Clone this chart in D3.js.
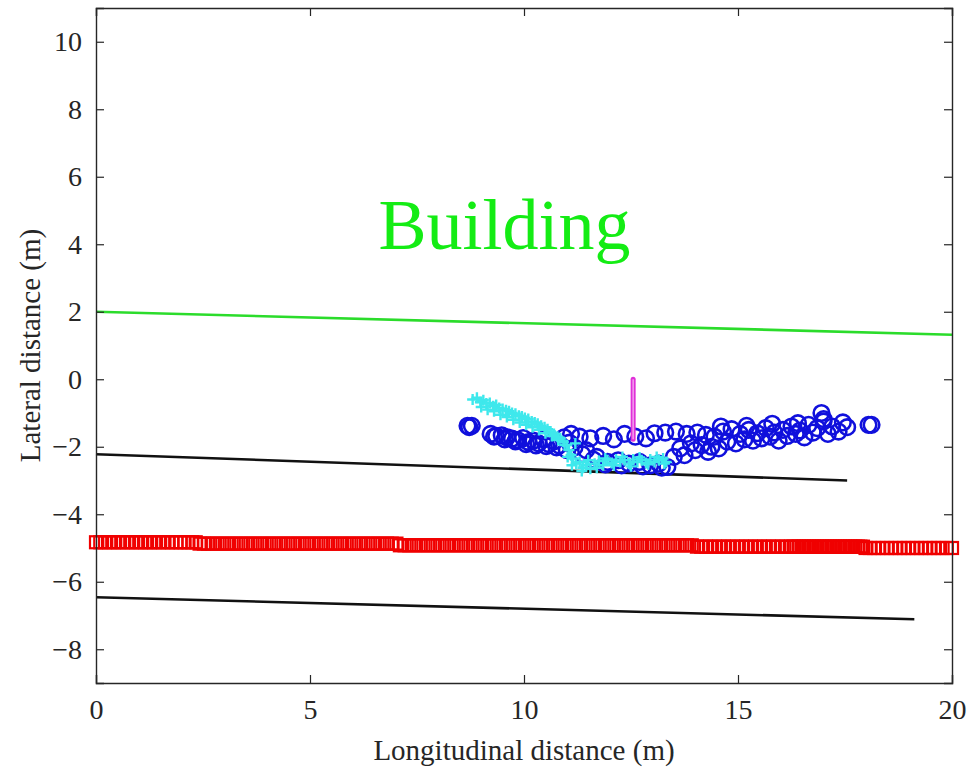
<!DOCTYPE html>
<html>
<head>
<meta charset="utf-8">
<script src="https://cdn.jsdelivr.net/npm/d3@7"></script>
<style>
  body { margin: 0; background: #fff; }
  svg text { font-family: "Liberation Serif", "Times New Roman", Times, serif !important; }
</style>
</head>
<body>
<div id="canvas"></div>
<script>
/*
Axis ticks */
var xTicks = [0, 5, 10, 15, 20];
var yTicks = [-8, -6, -4, -2, 0, 2, 4, 6, 8, 10];

/*
Road edge lines: [x0, y0, x1, y1] */
var greenLine = [0, 2.0, 20, 1.32];
var blackLine1 = [0, -2.22, 17.55, -3.0];
var blackLine2 = [0, -6.46, 19.12, -7.11];

/*
Pedestrian/pole marker (magenta) */
var magentaSeg = [12.55, 0.0, 12.55, -1.78];

/*
Red squares, grouped by lateral offset */
var redX1 = [0.00,0.10,0.21,0.31,0.42,0.52,0.63,0.73,0.84,0.94,1.05,1.15,1.26,1.36,1.47,1.57,1.68,1.78,1.88,1.98,2.07,2.16,2.25,2.33];
var redY1 = -4.83;
var redX2 = [2.42,2.52,2.62,2.73,2.84,2.95,3.06,3.17,3.28,3.39,3.50,3.61,3.72,3.83,3.94,4.05,4.16,4.27,4.38,4.49,4.60,4.71,4.82,4.93,5.04,5.15,5.26,5.37,5.48,5.59,5.70,5.81,5.92,6.03,6.14,6.25,6.36,6.47,6.58,6.69,6.80,6.91,7.02];
var redY2 = -4.87;
var redX3 = [7.10,7.21,7.32,7.43,7.54,7.65,7.76,7.87,7.98,8.09,8.20,8.31,8.42,8.53,8.64,8.75,8.86,8.97,9.08,9.19,9.30,9.41,9.52,9.63,9.74,9.85,9.96,10.07,10.18,10.29,10.40,10.51,10.62,10.73,10.84,10.95,11.06,11.17,11.28,11.39,11.50,11.61,11.72,11.83,11.94,12.05,12.16,12.27,12.38,12.49,12.60,12.71,12.82,12.93,13.04,13.15,13.26,13.37,13.48,13.59,13.70,13.81,13.92];
var redY3 = -4.92;
var redX4 = [14.04,14.14,14.25,14.35,14.46,14.56,14.67,14.77,14.88,14.98,15.09,15.19,15.30,15.40,15.51,15.61,15.72,15.82,15.93,16.03,16.14,16.24,16.30,16.36,16.42,16.48,16.54,16.60,16.66,16.72,16.78,16.84,16.90,16.96,17.02,17.08,17.14,17.20,17.26,17.32,17.38,17.44,17.50,17.56,17.62,17.68,17.74,17.80,17.86,17.92];
var redY4 = -4.96;
var redX5 = [17.98,18.08,18.18,18.28,18.38,18.48,18.58,18.68,18.78,18.88,18.98,19.08,19.18,19.28,19.38,19.48,19.58,19.68,19.78,19.88,20.00];
var redY5 = -5.0;

/*
Blue circles */
var blueX = [8.68,8.78,8.72,9.22,9.30,9.35,9.48,9.55,9.60,9.72,9.80,9.85,9.98,10.05,10.10,10.22,10.28,10.34,10.46,10.52,10.58,10.70,10.76,10.82,10.94,11.00,11.06,11.18,11.10,11.30,11.36,11.45,11.55,11.62,11.70,11.85,11.90,11.95,12.10,12.20,12.28,12.35,12.45,12.60,12.70,12.78,12.85,12.95,13.05,13.15,13.22,13.30,13.35,13.50,13.55,13.65,13.75,13.80,13.90,14.00,14.05,14.15,14.25,14.30,14.38,14.45,14.55,14.65,14.75,14.85,14.95,15.05,15.15,15.25,15.35,15.45,15.55,15.65,15.75,15.85,15.95,16.05,16.15,16.25,16.35,16.45,16.55,16.65,16.75,16.85,16.95,17.00,17.10,17.20,17.35,17.45,17.55,18.05,18.12,14.60,15.20,15.80,16.40,17.00];
var blueY = [-1.38,-1.38,-1.42,-1.62,-1.70,-1.68,-1.66,-1.78,-1.72,-1.76,-1.84,-1.80,-1.74,-1.92,-1.86,-1.82,-1.96,-1.90,-1.78,-1.98,-1.92,-1.84,-2.02,-1.96,-1.72,-2.10,-1.88,-2.02,-1.62,-1.70,-2.22,-2.10,-1.75,-2.38,-2.30,-1.68,-2.52,-2.45,-1.78,-2.40,-2.55,-1.62,-2.50,-1.70,-2.45,-2.58,-1.75,-2.55,-1.60,-2.50,-2.62,-1.58,-2.60,-2.30,-1.55,-2.05,-2.25,-1.62,-1.90,-2.10,-1.58,-1.95,-1.65,-2.15,-2.00,-1.70,-2.05,-1.55,-1.85,-1.48,-1.90,-1.62,-1.78,-1.50,-1.82,-1.60,-1.75,-1.45,-1.70,-1.58,-1.82,-1.50,-1.68,-1.40,-1.62,-1.52,-1.72,-1.35,-1.58,-1.45,-1.00,-1.25,-1.62,-1.40,-1.55,-1.28,-1.42,-1.35,-1.35,-1.40,-1.38,-1.32,-1.30,-1.18];

/*
Cyan plus markers */
var cyanX = [8.80,8.90,8.98,9.05,9.12,9.20,9.28,9.35,9.42,9.50,9.58,9.65,9.72,9.80,9.88,9.95,10.02,10.10,10.18,10.25,10.32,10.40,10.48,10.55,10.62,10.70,10.78,10.85,10.92,11.00,11.05,11.10,11.15,11.22,11.30,11.38,11.45,11.55,11.65,11.75,11.85,11.95,12.05,12.15,12.25,12.35,12.45,12.55,12.65,12.75,12.85,12.95,13.05,13.15,13.25,13.32,
             9.00,9.15,9.30,9.45,9.60,9.75,9.90,10.05,10.20,10.35,10.50,10.65,10.80,10.95,11.02,11.12,11.20,11.35,11.50,11.70,11.90,12.10,12.30,12.50,12.70,12.90,13.10,13.28];
var cyanY = [-0.60,-0.55,-0.68,-0.62,-0.72,-0.70,-0.80,-0.76,-0.85,-0.88,-0.92,-0.95,-1.00,-1.02,-1.08,-1.10,-1.15,-1.18,-1.25,-1.28,-1.32,-1.38,-1.42,-1.48,-1.55,-1.62,-1.70,-1.75,-1.85,-1.95,-2.10,-2.25,-2.35,-2.50,-2.45,-2.62,-2.55,-2.65,-2.50,-2.42,-2.55,-2.40,-2.48,-2.38,-2.45,-2.40,-2.50,-2.38,-2.45,-2.40,-2.48,-2.38,-2.45,-2.40,-2.35,-2.45,
             -0.82,-0.90,-0.95,-1.05,-1.12,-1.20,-1.28,-1.35,-1.42,-1.50,-1.60,-1.68,-1.80,-1.95,-2.30,-2.55,-1.90,-2.72,-2.40,-2.62,-2.35,-2.55,-2.30,-2.58,-2.32,-2.52,-2.30,-2.50];

/*
Label inside the plot */
var areaLabel = { text: "Building", x: 6.6, y: 3.85 };

var width = 971, height = 774;
var margin = { top: 8, right: 19, bottom: 91, left: 96 };
var axisColor = "#262626";
var serif = "'Liberation Serif', 'Times New Roman', Times, serif";

var svg = d3.select("#canvas").append("svg")
    .attr("width", width)
    .attr("height", height);

var x = d3.scaleLinear().domain([0, 20]).range([margin.left, width - margin.right]);
var y = d3.scaleLinear().domain([-9, 11]).range([height - margin.bottom, margin.top]);

/*
Lines */
function draw_line(seg, color, w) {
    svg.append("line")
        .attr("x1", x(seg[0])).attr("y1", y(seg[1]))
        .attr("x2", x(seg[2])).attr("y2", y(seg[3]))
        .attr("stroke", color)
        .attr("stroke-width", w);
}
draw_line(greenLine, "#2bdc2b", 2.6);
draw_line(blackLine1, "#111", 2.6);
draw_line(blackLine2, "#111", 2.6);

/*
Red squares */
var redGroups = [[redX1, redY1], [redX2, redY2], [redX3, redY3], [redX4, redY4], [redX5, redY5]];
var redPts = [];
redGroups.forEach(function(g) {
    g[0].forEach(function(v) { redPts.push([v, g[1]]); });
});
var sq = 12;
svg.append("g").selectAll("rect")
    .data(redPts)
    .enter().append("rect")
    .attr("x", function(d) { return x(d[0]) - sq / 2; })
    .attr("y", function(d) { return y(d[1]) - sq / 2; })
    .attr("width", sq).attr("height", sq)
    .attr("fill", "none")
    .attr("stroke", "#f00000")
    .attr("stroke-width", 2.2);

/*
Blue circles */
svg.append("g").selectAll("circle")
    .data(d3.range(blueX.length))
    .enter().append("circle")
    .attr("cx", function(i) { return x(blueX[i]); })
    .attr("cy", function(i) { return y(blueY[i]); })
    .attr("r", 7.8)
    .attr("fill", "none")
    .attr("stroke", "#1010dc")
    .attr("stroke-width", 2.6);

/*
Cyan plus markers */
var ps = 5.5;
svg.append("g").selectAll("path")
    .data(d3.range(cyanX.length))
    .enter().append("path")
    .attr("d", function(i) {
        var cx = x(cyanX[i]), cy = y(cyanY[i]);
        return "M" + (cx - ps) + "," + cy + "H" + (cx + ps) + "M" + cx + "," + (cy - ps) + "V" + (cy + ps);
    })
    .attr("stroke", "#3ee8ec")
    .attr("stroke-width", 2.4)
    .attr("fill", "none");

/*
Magenta segment */
svg.append("line")
    .attr("x1", x(magentaSeg[0])).attr("y1", y(magentaSeg[1]))
    .attr("x2", x(magentaSeg[2])).attr("y2", y(magentaSeg[3]))
    .attr("stroke", "#e030d8").attr("stroke-width", 5)
    .attr("stroke-linecap", "round");
svg.append("line")
    .attr("x1", x(magentaSeg[0])).attr("y1", y(magentaSeg[1]))
    .attr("x2", x(magentaSeg[2])).attr("y2", y(magentaSeg[3]))
    .attr("stroke", "#f4a8f0").attr("stroke-width", 1.4);

/*
Text label */
svg.append("text")
    .attr("x", x(areaLabel.x))
    .attr("y", y(areaLabel.y))
    .attr("fill", "#14ec14")
    .attr("font-size", 72)
    .style("font-family", serif)
    .text(areaLabel.text);

/*
Axes box with inward ticks on all sides */
var tickLen = 8;
var axB = svg.append("g").attr("transform", "translate(0," + (height - margin.bottom) + ")")
    .call(d3.axisBottom(x).tickValues(xTicks).tickSize(-tickLen).tickPadding(16).tickFormat(d3.format("d")));
var axT = svg.append("g").attr("transform", "translate(0," + margin.top + ")")
    .call(d3.axisTop(x).tickValues(xTicks).tickSize(-tickLen).tickFormat(""));
var axL = svg.append("g").attr("transform", "translate(" + margin.left + ",0)")
    .call(d3.axisLeft(y).tickValues(yTicks).tickSize(-tickLen).tickPadding(14).tickFormat(d3.format("d")));
var axR = svg.append("g").attr("transform", "translate(" + (width - margin.right) + ",0)")
    .call(d3.axisRight(y).tickValues(yTicks).tickSize(-tickLen).tickFormat(""));

[axB, axT, axL, axR].forEach(function(a) {
    a.attr("font-family", serif);
    a.select(".domain").attr("stroke", axisColor).attr("stroke-width", 1.4);
    a.selectAll(".tick line").attr("stroke", axisColor).attr("stroke-width", 1.2);
    a.selectAll(".tick text")
        .attr("fill", axisColor)
        .attr("font-size", 28)
        .style("font-family", serif);
});

/*
Axis titles */
svg.append("text")
    .attr("x", (margin.left + width - margin.right) / 2)
    .attr("y", 760)
    .attr("text-anchor", "middle")
    .attr("fill", axisColor)
    .attr("font-size", 29)
    .style("font-family", serif)
    .text("Longitudinal distance (m)");

svg.append("text")
    .attr("transform", "translate(40," + ((margin.top + height - margin.bottom) / 2) + ") rotate(-90)")
    .attr("text-anchor", "middle")
    .attr("fill", axisColor)
    .attr("font-size", 29)
    .style("font-family", serif)
    .text("Lateral distance (m)");
</script>
</body>
</html>
